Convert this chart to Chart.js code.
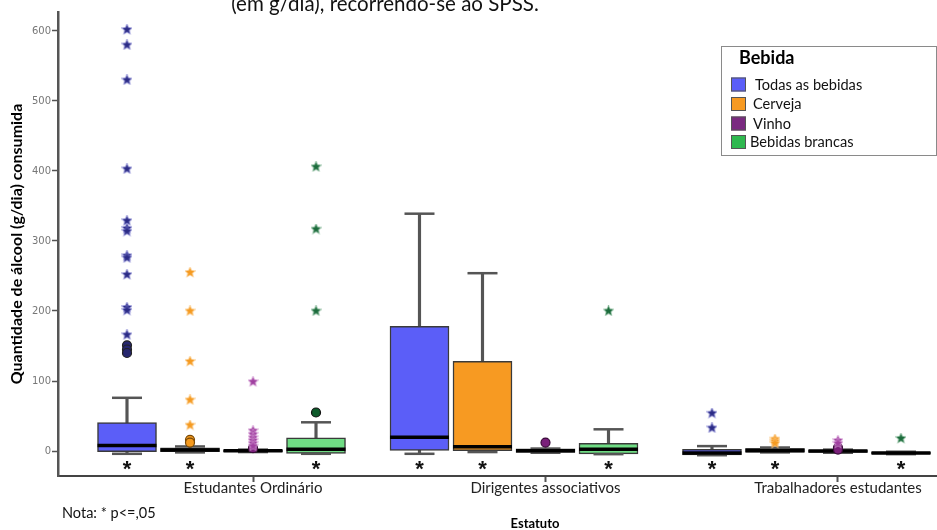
<!DOCTYPE html>
<html><head><meta charset="utf-8">
<script src="https://cdn.jsdelivr.net/npm/chart.js@4.4.1/dist/chart.umd.min.js"></script>
<style>html,body{margin:0;padding:0;background:#fff;overflow:hidden}#wrap{width:937px;height:530px}</style>
</head><body><div id="wrap"><canvas id="c" width="937" height="530"></canvas></div>
<script>
// ---------- data ----------
const categories = ['Estudantes Ordinário', 'Dirigentes associativos', 'Trabalhadores estudantes'];
const seriesNames = ['Todas as bebidas', 'Cerveja', 'Vinho', 'Bebidas brancas'];
const yTicks = [0, 100, 200, 300, 400, 500, 600];

// Todas as bebidas
const todasLow = [-4, -4, -6];
const todasQ1 = [-1, 1, -5.5];
const todasMed = [8, 19.5, -3];
const todasQ3 = [40.5, 178, 2.5];
const todasHigh = [76, 339, 7];
const todasCircles = [[151, 145, 140], [], []];
const todasStars = [[602, 580, 530, 403, 329, 318, 314, 279, 276, 252, 205, 201, 166], [], [54, 33]];
const todasSig = [true, true, true];

// Cerveja
const cervejaLow = [-2, -1.5, -2];
const cervejaQ1 = [-1, 0.5, -1.5];
const cervejaMed = [1.5, 6, 0.5];
const cervejaQ3 = [4.5, 128, 4];
const cervejaHigh = [6.5, 254, 5];
const cervejaCircles = [[16, 12], [], []];
const cervejaStars = [[255, 200, 128, 73, 37], [], [17, 14, 11]];
const cervejaSig = [true, true, true];

// Vinho
const vinhoLow = [-1.5, -2.5, -2.5];
const vinhoQ1 = [-1, -2, -2];
const vinhoMed = [0.5, 0.5, 0];
const vinhoQ3 = [1.5, 3, 1.5];
const vinhoHigh = [2, 3.5, 2];
const vinhoCircles = [[4], [12], [5, 2]];
const vinhoStars = [[99, 29, 24, 19, 15, 11, 7], [], [15, 11]];
const vinhoSig = [false, false, false];

// Bebidas brancas
const brancasLow = [-4, -4.5, -4.5];
const brancasQ1 = [-3.5, -4, -4];
const brancasMed = [2.5, 2.5, -3];
const brancasQ3 = [19, 11, -1.5];
const brancasHigh = [41, 31, -1];
const brancasCircles = [[55], [], []];
const brancasStars = [[406, 317, 200], [200], [18]];
const brancasSig = [true, true, true];

// ---------- assembly ----------
const series = [
  {low: todasLow, q1: todasQ1, med: todasMed, q3: todasQ3, high: todasHigh, circles: todasCircles, stars: todasStars, sig: todasSig},
  {low: cervejaLow, q1: cervejaQ1, med: cervejaMed, q3: cervejaQ3, high: cervejaHigh, circles: cervejaCircles, stars: cervejaStars, sig: cervejaSig},
  {low: vinhoLow, q1: vinhoQ1, med: vinhoMed, q3: vinhoQ3, high: vinhoHigh, circles: vinhoCircles, stars: vinhoStars, sig: vinhoSig},
  {low: brancasLow, q1: brancasQ1, med: brancasMed, q3: brancasQ3, high: brancasHigh, circles: brancasCircles, stars: brancasStars, sig: brancasSig}
];
const styles = [
  {fill: '#5b5ef8', legend: '#5b5ef8', circle: '#26266e', circleBorder: '#222', starFill: '#2b2b86', starStroke: 'rgba(120,120,205,0.8)'},
  {fill: '#f79a22', legend: '#f79a22', circle: '#f59a1e', circleBorder: '#7a4a08', starFill: '#f59a20', starStroke: 'rgba(250,195,120,0.85)'},
  {fill: '#7a2a80', legend: '#7a2a80', circle: '#7a207a', circleBorder: '#3a0a3a', starFill: '#a040a0', starStroke: 'rgba(210,150,210,0.85)'},
  {fill: '#6fdc84', legend: '#2fb84f', circle: '#0d5a2a', circleBorder: '#111', starFill: '#1b6b3b', starStroke: 'rgba(120,175,140,0.85)'}
];
const slotStep = 0.2154;
const offsets = [-2 * slotStep, -slotStep, 0, slotStep];
const xPos = (si, ci) => ci + 1 + offsets[si];

function makeStar(fill, stroke, size) {
  const c = document.createElement('canvas');
  c.width = size; c.height = size;
  const g = c.getContext('2d');
  const cx = size / 2, cy = size / 2, R = size / 2 - 1, r = R * 0.45;
  g.beginPath();
  for (let k = 0; k < 10; k++) {
    const a = -Math.PI / 2 + k * Math.PI / 5;
    const rad = k % 2 ? r : R;
    g.lineTo(cx + rad * Math.cos(a), cy + rad * Math.sin(a));
  }
  g.closePath();
  g.strokeStyle = stroke; g.lineWidth = 1.6; g.stroke();
  g.fillStyle = fill; g.fill();
  return c;
}

const datasets = [];
series.forEach((s, si) => {
  const st = styles[si];
  datasets.push({
    type: 'bar', label: seriesNames[si] + ' (bigode)', order: 6, grouped: false,
    data: categories.map((c, ci) => ({x: xPos(si, ci), y: [s.q3[ci], s.high[ci]]})),
    backgroundColor: '#555', barThickness: 2.5, borderWidth: 0
  });
  datasets.push({
    type: 'bar', label: seriesNames[si] + ' (bigode inf.)', order: 6, grouped: false,
    data: categories.map((c, ci) => ({x: xPos(si, ci), y: [s.low[ci], s.q1[ci]]})),
    backgroundColor: '#555', barThickness: 2.5, borderWidth: 0
  });
  datasets.push({
    type: 'bar', label: seriesNames[si], order: 5, grouped: false,
    data: categories.map((c, ci) => ({x: xPos(si, ci), y: [s.q1[ci], s.q3[ci]]})),
    backgroundColor: st.fill, borderColor: '#3a3a3a', borderWidth: 1.5, borderSkipped: false, barThickness: 59
  });
  const caps = [];
  categories.forEach((c, ci) => { caps.push({x: xPos(si, ci), y: s.high[ci]}); caps.push({x: xPos(si, ci), y: s.low[ci]}); });
  datasets.push({
    type: 'scatter', label: seriesNames[si] + ' (limites)', order: 4, data: caps,
    pointStyle: 'line', pointRadius: 15, pointBorderWidth: 2.5, pointBorderColor: '#555', pointHoverRadius: 15
  });
  datasets.push({
    type: 'scatter', label: seriesNames[si] + ' (mediana)', order: 3,
    data: categories.map((c, ci) => ({x: xPos(si, ci), y: s.med[ci]})),
    pointStyle: 'line', pointRadius: 29.5, pointBorderWidth: 3.5, pointBorderColor: '#000', pointHoverRadius: 29.5
  });
  const circ = [];
  s.circles.forEach((arr, ci) => arr.forEach(v => circ.push({x: xPos(si, ci), y: v})));
  datasets.push({
    type: 'scatter', label: seriesNames[si] + ' (outliers)', order: 2, data: circ,
    pointStyle: 'circle', pointRadius: 4.5, pointBackgroundColor: st.circle, pointBorderColor: st.circleBorder, pointBorderWidth: 1.2
  });
  const stars = [];
  s.stars.forEach((arr, ci) => arr.forEach(v => stars.push({x: xPos(si, ci), y: v})));
  const img = makeStar(st.starFill, st.starStroke, 11);
  datasets.push({
    type: 'scatter', label: seriesNames[si] + ' (extremos)', order: 1, data: stars,
    pointStyle: img, pointRadius: 5
  });
});

const annotations = {
  id: 'annotations',
  afterDraw(chart) {
    const ctx = chart.ctx;
    const xs = chart.scales.x, ys = chart.scales.y;
    ctx.save();
    // heading (cropped)
    ctx.fillStyle = '#111';
    ctx.font = '20.5px Lato';
    ctx.textAlign = 'center';
    ctx.textBaseline = 'alphabetic';
    ctx.fillText('(em g/dia), recorrendo-se ao SPSS.', 385, 11);
    // x-axis title
    ctx.font = 'bold 13px Lato';
    ctx.fillStyle = '#000';
    ctx.fillText('Estatuto', 535, 528);
    // note
    ctx.textAlign = 'left';
    ctx.font = '14.5px Lato';
    ctx.fillStyle = '#111';
    ctx.fillText('Nota: * p<=,05', 62, 518);
    // significance asterisks
    ctx.textAlign = 'center';
    ctx.font = 'bold 22px "Liberation Sans"';
    ctx.fillStyle = '#111';
    series.forEach((s, si) => s.sig.forEach((flag, ci) => {
      if (!flag) return;
      ctx.fillText('*', xs.getPixelForValue(xPos(si, ci)), ys.getPixelForValue(0) + 25);
    }));
    // legend
    const lx = 721, ly = 46, lw = 215, lh = 109;
    ctx.fillStyle = '#fff';
    ctx.fillRect(lx, ly, lw, lh);
    ctx.strokeStyle = '#8a8a8a';
    ctx.lineWidth = 1;
    ctx.strokeRect(lx + 0.5, ly + 0.5, lw, lh);
    ctx.textAlign = 'left';
    ctx.fillStyle = '#000';
    ctx.font = 'bold 18px Lato';
    ctx.fillText('Bebida', 739, 64);
    const rowsY = [77.5, 97, 116.5, 135];
    const textX = [755, 753, 753, 750];
    ctx.font = '14.6px Lato';
    seriesNames.forEach((n, i) => {
      ctx.fillStyle = styles[i].legend;
      ctx.fillRect(731, rowsY[i], 15, 14);
      ctx.strokeStyle = '#555';
      ctx.strokeRect(731.5, rowsY[i] + 0.5, 14, 13);
      ctx.fillStyle = '#111';
      ctx.textBaseline = 'middle';
      ctx.fillText(n, textX[i], rowsY[i] + 7.5);
    });
    ctx.restore();
  }
};

new Chart(document.getElementById('c'), {
  type: 'bar',
  data: {datasets},
  options: {
    responsive: false,
    animation: false,
    devicePixelRatio: 1,
    layout: {autoPadding: false, padding: {top: 12, right: 0, bottom: 0, left: 0}},
    plugins: {legend: {display: false}, tooltip: {enabled: false}, title: {display: false}},
    scales: {
      x: {
        type: 'linear', min: 0.3333, max: 3.3385, offset: false,
        afterBuildTicks: (s) => { s.ticks = categories.map((c, i) => ({value: i + 1})); },
        afterFit: (s) => { s.height = 54; },
        ticks: {
          callback: (v) => categories[Math.round(v) - 1] || '',
          font: {family: 'Lato', size: 15}, color: '#222', padding: -3,
          maxRotation: 0, autoSkip: false
        },
        grid: {drawOnChartArea: false, drawTicks: true, tickLength: 6, tickWidth: 2, color: '#555', offset: false},
        border: {display: true, color: '#444', width: 2}
      },
      y: {
        type: 'linear', min: -35.7, max: 627.1,
        afterBuildTicks: (s) => { s.ticks = yTicks.map(v => ({value: v})); },
        afterFit: (s) => { s.width = 58; },
        ticks: {font: {family: 'DejaVu Sans', size: 10}, color: '#777', padding: 1},
        grid: {drawOnChartArea: false, drawTicks: true, tickLength: 6, tickWidth: 1.5, color: '#555'},
        border: {display: true, color: '#555', width: 2.5},
        title: {display: true, text: 'Quantidade de álcool (g/dia) consumida', font: {family: 'Lato', size: 16, weight: 'bold'}, color: '#000', padding: {top: 7, bottom: 0}}
      }
    }
  },
  plugins: [annotations]
});
</script>
</body></html>
